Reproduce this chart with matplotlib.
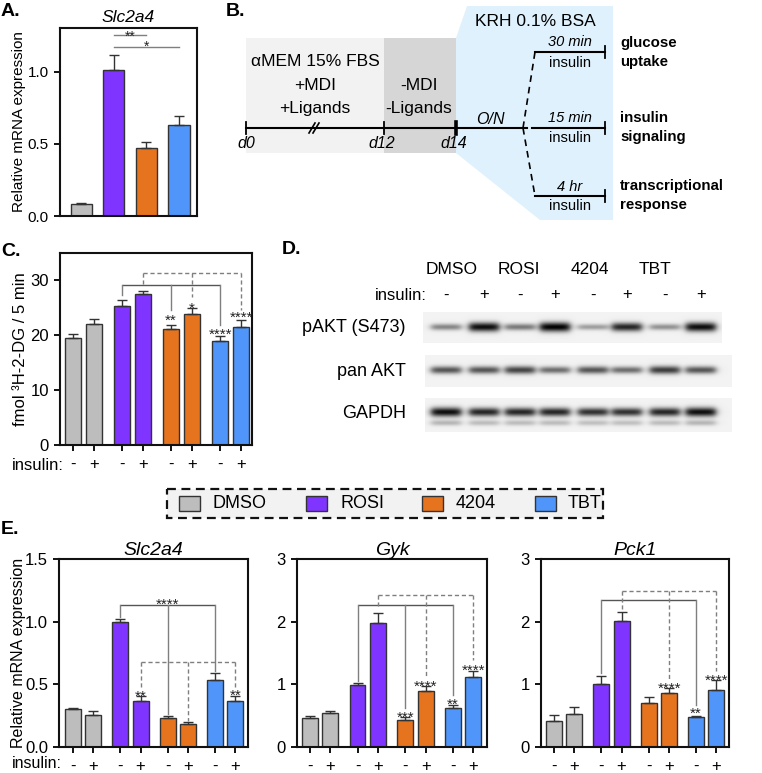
import numpy as np
import matplotlib
matplotlib.use('Agg')
import matplotlib.pyplot as plt
from matplotlib.patches import Rectangle, Polygon

plt.rcParams['font.family'] = ['Liberation Sans', 'DejaVu Sans']

W, H = 762, 773
fig = plt.figure(figsize=(W / 100, H / 100), dpi=100)

# ---------------- data ----------------
groups = ['DMSO', 'ROSI', '4204', 'TBT']
group_colors = ['#bdbdbd', '#8034ff', '#e6731e', '#4f95fa']
insulin_labels = ['-', '+', '-', '+', '-', '+', '-', '+']

# Panel A: Slc2a4
a_vals = [0.08, 1.01, 0.47, 0.635]
a_err = [0.012, 0.11, 0.045, 0.06]

# Panel C: glucose uptake
c_vals = [19.5, 22.1, 25.4, 27.6, 21.2, 23.9, 18.9, 21.5]
c_err = [0.8, 0.8, 1.1, 0.4, 0.7, 1.0, 0.9, 1.2]

# Panel E
e_titles = ['Slc2a4', 'Gyk', 'Pck1']
slc_vals = [0.306, 0.258, 0.997, 0.364, 0.229, 0.183, 0.532, 0.364]
slc_err = [0.006, 0.027, 0.025, 0.04, 0.018, 0.018, 0.058, 0.045]
gyk_vals = [0.464, 0.55, 0.997, 1.984, 0.437, 0.896, 0.63, 1.125]
gyk_err = [0.035, 0.02, 0.03, 0.16, 0.04, 0.075, 0.045, 0.085]
pck_vals = [0.415, 0.53, 1.01, 2.005, 0.70, 0.862, 0.479, 0.915]
pck_err = [0.09, 0.11, 0.12, 0.15, 0.09, 0.08, 0.015, 0.16]

# Western blot band intensities (lanes: DMSO -,+ ROSI -,+ 4204 -,+ TBT -,+)
pakt_bands = [0.45, 0.95, 0.5, 1.0, 0.35, 0.85, 0.4, 0.95]
panakt_bands = [0.65, 0.65, 0.72, 0.55, 0.65, 0.55, 0.75, 0.65]
gapdh_bands = [0.95, 0.85, 0.85, 0.85, 0.8, 0.8, 0.85, 0.95]
blot_rows = ['pAKT (S473)', 'pan AKT', 'GAPDH']

pos = [0, 1, 2.33, 3.33, 4.67, 5.67, 7, 8]
bar_colors = [c for c in group_colors for _ in range(2)]

EDGE = '#333333'
LINE = '#7f7f7f'


def axpx(l, t, r, b):
    return fig.add_axes([l / W, 1 - b / H, (r - l) / W, (b - t) / H])


def style_axes(ax, fs=12):
    for s in ax.spines.values():
        s.set_linewidth(1.5)
        s.set_color('#111111')
    ax.tick_params(axis='both', length=4.5, width=1.4, labelsize=fs, color='#111111')


def bars8(ax, vals, errs, width=0.78):
    ax.bar(pos, vals, width, color=bar_colors, edgecolor=EDGE, linewidth=1, zorder=2)
    ax.errorbar(pos, vals, yerr=[np.zeros(len(vals)), errs], fmt='none', ecolor=EDGE,
                elinewidth=1, capsize=3.5, capthick=1, zorder=3)
    ax.set_xticks(pos)
    ax.set_xticklabels(insulin_labels, fontsize=12)
    ax.tick_params(axis='x', pad=4)


def bracket(ax, idx, level, drops, dashed=False):
    ls = (0, (3, 2)) if dashed else '-'
    xs = [pos[i] for i in idx]
    ax.plot([min(xs), max(xs)], [level, level], color='#555555' if not dashed else LINE,
            lw=1, ls=ls, zorder=4, solid_capstyle='butt')
    for x, d in zip(xs, drops):
        ax.plot([x, x], [level, d], color=LINE, lw=1, ls=ls, zorder=4)


def stars(ax, x, y, s, fs=11):
    ax.annotate(s, (x, y), xytext=(0, -0.58 * fs), textcoords='offset points',
                ha='center', va='baseline', fontsize=fs, color='#222222', zorder=5)


# ---------------- Panel A ----------------
axA = axpx(60, 28, 197, 216)
a_pos = [0, 1, 2, 3]
axA.bar(a_pos, a_vals, 0.65, color=group_colors, edgecolor=EDGE, linewidth=1, zorder=2)
axA.errorbar(a_pos, a_vals, yerr=[np.zeros(4), a_err], fmt='none', ecolor=EDGE,
             elinewidth=1, capsize=3.5, capthick=1, zorder=3)
axA.set_xlim(-0.65, 3.55)
axA.set_ylim(0, 1.305)
axA.set_yticks([0, 0.5, 1.0])
axA.set_yticklabels(['0.0', '0.5', '1.0'])
style_axes(axA, 11)
axA.tick_params(axis='x', length=0, labelbottom=False)
axA.set_title('Slc2a4', fontsize=12.5, style='italic', pad=4)
axA.plot([1, 2], [1.257, 1.257], color=LINE, lw=1)
axA.plot([1, 3], [1.17, 1.17], color=LINE, lw=1)
stars(axA, 1.5, 1.27, '**', 10)
stars(axA, 2.0, 1.20, '*', 10)

# ---------------- Panel C ----------------
axC = axpx(60, 253, 252, 445)
bars8(axC, c_vals, c_err, 0.76)
axC.set_xlim(-0.62, 8.52)
axC.set_ylim(0, 35)
axC.set_yticks([0, 10, 20, 30])
style_axes(axC, 12)
bracket(axC, [2, 4, 6], 29.2, [27.3, 24.6, 21.8])
bracket(axC, [3, 5, 7], 31.3, [29.1, 26.9, 24.6], dashed=True)
stars(axC, pos[4], 23.5, '**')
stars(axC, pos[5], 25.8, '*')
stars(axC, pos[6], 20.9, '****')
stars(axC, pos[7], 24.0, '****')

# ---------------- Panel E ----------------
e_boxes = [(59, 248, -0.69, 8.62), (297, 487, -0.64, 8.68), (541, 729, -0.64, 8.62)]
e_data = [(slc_vals, slc_err), (gyk_vals, gyk_err), (pck_vals, pck_err)]
e_axes = []
for (l, r, x0, x1), (v, e), title in zip(e_boxes, e_data, e_titles):
    ax = axpx(l, 559, r, 747)
    bars8(ax, v, e, 0.78)
    ax.set_xlim(x0, x1)
    style_axes(ax, 12)
    ax.set_title(title, fontsize=14, style='italic', pad=3)
    e_axes.append(ax)

axE1, axE2, axE3 = e_axes
axE1.set_ylim(0, 1.5)
axE1.set_yticks([0, 0.5, 1.0, 1.5])
axE1.set_yticklabels(['0.0', '0.5', '1.0', '1.5'])
bracket(axE1, [2, 4, 6], 1.136, [1.04, 0.26, 0.61])
bracket(axE1, [3, 5, 7], 0.678, [0.48, 0.21, 0.48], dashed=True)
stars(axE1, pos[4], 1.17, '****')
stars(axE1, pos[3], 0.44, '**')
stars(axE1, pos[7], 0.447, '**')

for ax in (axE2, axE3):
    ax.set_ylim(0, 3)
    ax.set_yticks([0, 1, 2, 3])

bracket(axE2, [2, 4, 6], 2.267, [1.06, 0.62, 0.83])
bracket(axE2, [3, 5, 7], 2.427, [2.25, 1.12, 1.39], dashed=True)
stars(axE2, pos[4], 0.544, '***')
stars(axE2, pos[6], 0.757, '**')
stars(axE2, pos[5], 1.035, '****')
stars(axE2, pos[7], 1.29, '****')

bracket(axE3, [2, 6], 2.34, [1.18, 0.665])
bracket(axE3, [3, 5, 7], 2.484, [2.2, 1.09, 1.22], dashed=True)
stars(axE3, pos[5], 1.01, '****')
stars(axE3, pos[6], 0.60, '**')
stars(axE3, pos[7], 1.14, '****')

# ---------------- overlay ----------------
ov = fig.add_axes([0, 0, 1, 1])
ov.axis('off')

# panel letters
for s, x, y in [('A.', 1, 12), ('B.', 226, 11), ('C.', 1, 252), ('D.', 282, 250), ('E.', 1, 529)]:
    ov.text(x, y, s, fontsize=14, fontweight='bold', ha='left', va='center')

# y labels
ov.text(19, 122, 'Relative mRNA expression', rotation=90, fontsize=11, ha='center', va='center')
ov.text(21, 349, 'fmol ³H-2-DG / 5 min', rotation=90, fontsize=12, ha='center', va='center')
ov.text(19, 653, 'Relative mRNA expression', rotation=90, fontsize=11.5, ha='center', va='center')
ov.text(64, 465, 'insulin:', fontsize=12, ha='right', va='center')
ov.text(62, 764, 'insulin:', fontsize=11.5, ha='right', va='center')

# ----- Panel B schematic -----
ov.add_patch(Rectangle((246, 38), 138, 115, fc='#f2f2f2', ec='none', zorder=0))
ov.add_patch(Rectangle((384, 38), 72, 115, fc='#d6d6d6', ec='none', zorder=0))
ov.add_patch(Polygon([(456, 38), (467, 6), (613, 6), (613, 220), (540, 220), (456, 153)],
                     closed=True, fc='#dff1fc', ec='none', zorder=0))
ov.plot([246, 527], [128, 128], color='k', lw=1.5)
for x, lw in [(246, 1.3), (384, 1.3), (456, 2.6)]:
    ov.plot([x, x], [122, 134], color='k', lw=lw)
ov.plot([309, 315], [133, 123], color='k', lw=1.2)
ov.plot([313, 319], [133, 123], color='k', lw=1.2)
ov.plot([523, 535], [128, 52], color='k', lw=1.2, ls=(0, (4, 3)))
ov.plot([523, 535], [128, 196], color='k', lw=1.2, ls=(0, (4, 3)))
for y in (52, 128, 196):
    ov.plot([535 if y != 128 else 532, 605], [y, y], color='k', lw=1.5)
    ov.plot([605, 605], [y - 6, y + 6], color='k', lw=1.3)

ov.text(315, 62, 'αMEM 15% FBS', fontsize=12.5, ha='center', va='center')
ov.text(315, 85, '+MDI', fontsize=12.5, ha='center', va='center')
ov.text(315, 108, '+Ligands', fontsize=12.5, ha='center', va='center')
ov.text(419, 85, '-MDI', fontsize=12.5, ha='center', va='center')
ov.text(419, 108, '-Ligands', fontsize=12.5, ha='center', va='center')
ov.text(535, 22, 'KRH 0.1% BSA', fontsize=12.5, ha='center', va='center')
ov.text(490, 120, 'O/N', fontsize=11.5, style='italic', ha='center', va='center')
for s, x in [('d0', 246), ('d12', 382), ('d14', 454)]:
    ov.text(x, 143, s, fontsize=11.5, style='italic', ha='center', va='center')
for s, y in [('30 min', 42), ('15 min', 118), ('4 hr', 187)]:
    ov.text(570, y, s, fontsize=10.5, style='italic', ha='center', va='center')
for y in (63, 138, 206):
    ov.text(570, y, 'insulin', fontsize=10.5, ha='center', va='center')
for s, y in [('glucose', 43), ('uptake', 62), ('insulin', 118), ('signaling', 137),
             ('transcriptional', 186), ('response', 205)]:
    ov.text(620, y, s, fontsize=10.8, fontweight='bold', ha='left', va='center')

# ----- Panel D western blot -----
lanes_x = [446, 484, 520, 555, 593, 627, 665, 701]
for s, x in zip(groups, [452, 519, 590, 655]):
    ov.text(x, 270, s, fontsize=12.5, ha='center', va='center')
ov.text(427, 295, 'insulin:', fontsize=12, ha='right', va='center')
for s, x in zip(insulin_labels, lanes_x):
    ov.text(x, 295, s, fontsize=12, ha='center', va='center')

row_specs = [
    (pakt_bands, 423, 722, 312, 343, 327, 0.0),
    (panakt_bands, 425, 732, 355, 387, 370, 0.0),
    (gapdh_bands, 425, 732, 398, 432, 412, 0.25),
]
for (bands, x0, x1, y0, y1, yc, second), label in zip(row_specs, blot_rows):
    nx, ny = int((x1 - x0) * 2), int((y1 - y0) * 2)
    xx = np.linspace(x0, x1, nx)[None, :]
    yy = np.linspace(y0, y1, ny)[:, None]
    dark = np.zeros((ny, nx))
    for xc, inten in zip(lanes_x, bands):
        hprof = 1 / (1 + np.exp((np.abs(xx - xc) - 15) / 2.0))
        sig = 1.4 + 2.0 * inten
        vprof = np.exp(-0.5 * ((yy - yc) / sig) ** 2)
        dark += 0.95 * inten * hprof * vprof
        if second > 0:
            vp2 = np.exp(-0.5 * ((yy - (yc + 11)) / 2.0) ** 2)
            dark += second * inten * hprof * vp2
    img = np.clip(0.95 - dark, 0, 1)
    ov.imshow(img, cmap='gray', vmin=0, vmax=1, extent=[x0, x1, y1, y0],
              aspect='auto', interpolation='bilinear', zorder=1)
    ov.text(406, yc + 1, label, fontsize=13, ha='right', va='center')

# ----- legend -----
ov.add_patch(Rectangle((167, 489), 436, 29, fc='#f2f2f2', ec='#111111', lw=1.6,
                       ls=(0, (4, 2.5)), zorder=1))
for s, c, xs, xt in zip(groups, group_colors, [179, 306, 422, 535], [213, 340, 456, 568]):
    ov.add_patch(Rectangle((xs, 496), 21, 15, fc=c, ec=EDGE, lw=1, zorder=2))
    ov.text(xt, 503.5, s, fontsize=13, ha='left', va='center')

ov.set_xlim(0, W)
ov.set_ylim(H, 0)

fig.savefig('out.png', dpi=100)
